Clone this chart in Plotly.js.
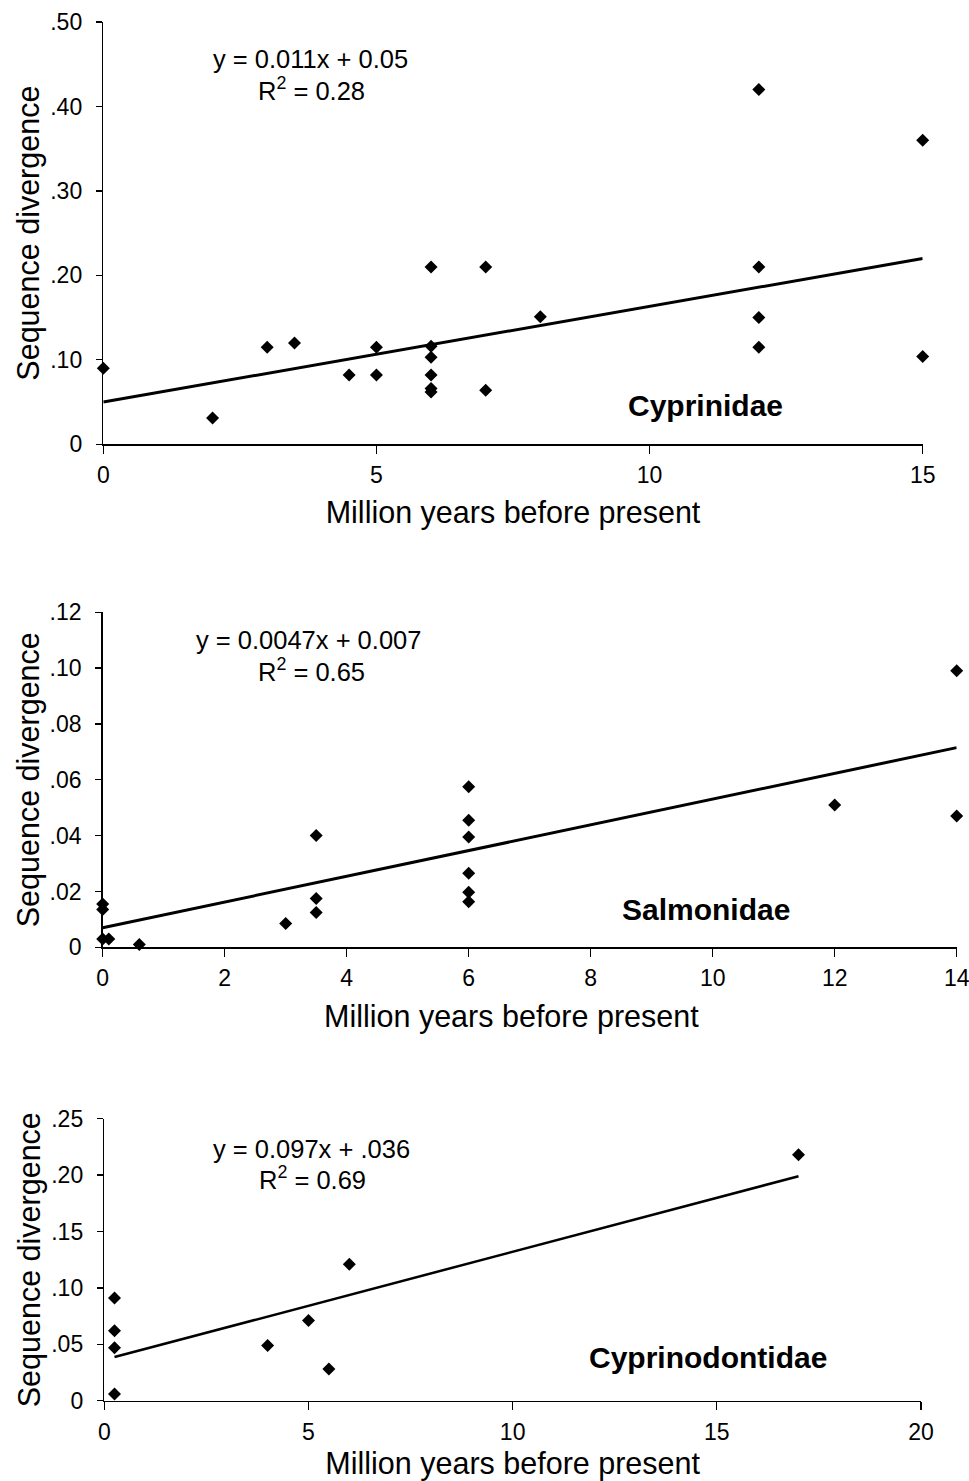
<!DOCTYPE html>
<html>
<head>
<meta charset="utf-8">
<script src="https://cdn.plot.ly/plotly-3.0.1.min.js"></script>
<style>html,body{margin:0;padding:0;background:#fff;}#chart{width:969px;height:1481px;}</style>
</head>
<body>
<div id="chart"></div>
<script>
// ---- Data ----
const cypX = [0, 2, 3, 3.5, 4.5, 5, 5, 6, 6, 6, 6, 6, 6, 7, 7, 8, 12, 12, 12, 12, 15, 15];
const cypY = [0.09, 0.031, 0.115, 0.12, 0.082, 0.115, 0.082, 0.21, 0.116, 0.103, 0.082, 0.062, 0.066, 0.21, 0.064, 0.151, 0.42, 0.21, 0.15, 0.115, 0.36, 0.104];
const cypTrendX = [0, 15];
const cypTrendY = [0.05, 0.22];

const salX = [0, 0, 0, 0.1, 0.6, 3, 3.5, 3.5, 3.5, 6, 6, 6, 6, 6, 6, 12, 14, 14];
const salY = [0.0135, 0.0155, 0.003, 0.003, 0.001, 0.0085, 0.04, 0.0175, 0.0125, 0.0575, 0.0455, 0.0395, 0.0265, 0.0197, 0.0163, 0.051, 0.099, 0.047];
const salTrendX = [0, 14];
const salTrendY = [0.007, 0.0715];

const cypdX = [0.25, 0.25, 0.25, 0.25, 4, 5, 5.5, 6, 17];
const cypdY = [0.091, 0.062, 0.047, 0.006, 0.049, 0.071, 0.028, 0.121, 0.218];
const cypdTrendX = [0.25, 17];
const cypdTrendY = [0.0387, 0.199];

const y1Ticks = [0, 0.1, 0.2, 0.3, 0.4, 0.5];
const y1Text = ["0", ".10", ".20", ".30", ".40", ".50"];
const y2Ticks = [0, 0.02, 0.04, 0.06, 0.08, 0.10, 0.12];
const y2Text = ["0", ".02", ".04", ".06", ".08", ".10", ".12"];
const y3Ticks = [0, 0.05, 0.10, 0.15, 0.20, 0.25];
const y3Text = ["0", ".05", ".10", ".15", ".20", ".25"];
const x1Ticks = [0, 5, 10, 15];
const x2Ticks = [0, 2, 4, 6, 8, 10, 12, 14];
const x3Ticks = [0, 5, 10, 15, 20];

const xTitle = "Million years before present";
const yTitle = "Sequence divergence";

// ---- Layout helpers ----
const W = 969, H = 1481;
const fx = p => p / W;
const fy = p => 1 - p / H;
const FONT = "Liberation Sans, Arial, Helvetica, sans-serif";
const TITLE_SIZE = 30.5;
const TICK_SIZE = 23;

function pts(x, y, xa, ya) {
  return {x: x, y: y, xaxis: xa, yaxis: ya, type: 'scatter', mode: 'markers',
    marker: {symbol: 'diamond', size: 10, color: '#000'}, cliponaxis: false, showlegend: false, hoverinfo: 'x+y'};
}
function trend(x, y, xa, ya, w) {
  return {x: x, y: y, xaxis: xa, yaxis: ya, type: 'scatter', mode: 'lines',
    line: {color: '#000', width: w}, cliponaxis: false, showlegend: false, hoverinfo: 'skip'};
}

const data = [
  trend(cypTrendX, cypTrendY, 'x', 'y', 3), pts(cypX, cypY, 'x', 'y'),
  trend(salTrendX, salTrendY, 'x2', 'y2', 3), pts(salX, salY, 'x2', 'y2'),
  trend(cypdTrendX, cypdTrendY, 'x3', 'y3', 2.5), pts(cypdX, cypdY, 'x3', 'y3')
];

function xax(domain, range, ticks, anchor, titleStandoff) {
  const a = {domain: domain, range: range, tickvals: ticks, ticktext: ticks.map(String), anchor: anchor,
    showline: true, linecolor: '#000', linewidth: 1.5, ticks: 'outside', ticklen: 8, tickwidth: 1.3, tickcolor: '#000',
    showgrid: false, zeroline: false, tickfont: {family: FONT, size: TICK_SIZE, color: '#000'}, ticklabelstandoff: 2,
    ticklabeloverflow: 'allow', fixedrange: true};
  if (titleStandoff !== null) a.title = {text: xTitle, font: {family: FONT, size: TITLE_SIZE, color: '#000'}, standoff: titleStandoff};
  return a;
}
function yax(domain, range, ticks, text, anchor) {
  return {domain: domain, range: range, tickvals: ticks, ticktext: text, anchor: anchor,
    showline: true, linecolor: '#000', linewidth: 1.5, ticks: 'outside', ticklen: 6, tickwidth: 1.3, tickcolor: '#000',
    showgrid: false, zeroline: false, tickfont: {family: FONT, size: TICK_SIZE, color: '#000'}, ticklabelstandoff: 9,
    ticklabeloverflow: 'allow',
    title: {text: yTitle, font: {family: FONT, size: TITLE_SIZE, color: '#000'}, standoff: 1}, fixedrange: true};
}

function txt(text, xp, yp, size, bold) {
  return {text: bold ? '<b>' + text + '</b>' : text, xref: 'paper', yref: 'paper', x: fx(xp), y: fy(yp),
    xanchor: 'center', yanchor: 'middle', showarrow: false,
    font: {family: FONT, size: size, color: '#000'}};
}

const layout = {
  width: W, height: H, margin: {l: 0, r: 0, t: 0, b: 0},
  paper_bgcolor: '#fff', plot_bgcolor: '#fff', showlegend: false,
  xaxis: xax([fx(103.3), fx(922.7)], [0, 15], x1Ticks, 'y', 14),
  yaxis: yax([fy(444.3), fy(22)], [0, 0.5], y1Ticks, y1Text, 'x'),
  xaxis2: xax([fx(102.7), fx(956.7)], [0, 14], x2Ticks, 'y2', null),
  yaxis2: yax([fy(947.3), fy(612.2)], [0, 0.12], y2Ticks, y2Text, 'x2'),
  xaxis3: xax([fx(104.3), fx(921)], [0, 20], x3Ticks, 'y3', 9),
  yaxis3: yax([fy(1400.7), fy(1118.7)], [0, 0.25], y3Ticks, y3Text, 'x3'),
  annotations: [
    txt('y = 0.011x + 0.05', 310, 59, 25.5, false),
    txt('R<sup>2</sup> = 0.28', 311, 89, 25.5, false),
    txt('Cyprinidae', 705, 405, 30, true),
    txt('y = 0.0047x + 0.007', 308, 640, 25.5, false),
    txt('R<sup>2</sup> = 0.65', 311, 670, 25.5, false),
    txt('Salmonidae', 706, 910, 30, true),
    txt(xTitle, 511, 1016, TITLE_SIZE, false),
    txt('y = 0.097x + .036', 311, 1149, 25.5, false),
    txt('R<sup>2</sup> = 0.69', 312, 1178, 25.5, false),
    txt('Cyprinodontidae', 708, 1357, 30, true)
  ]
};

Plotly.newPlot('chart', data, layout, {displayModeBar: false, staticPlot: true});
</script>
</body>
</html>
